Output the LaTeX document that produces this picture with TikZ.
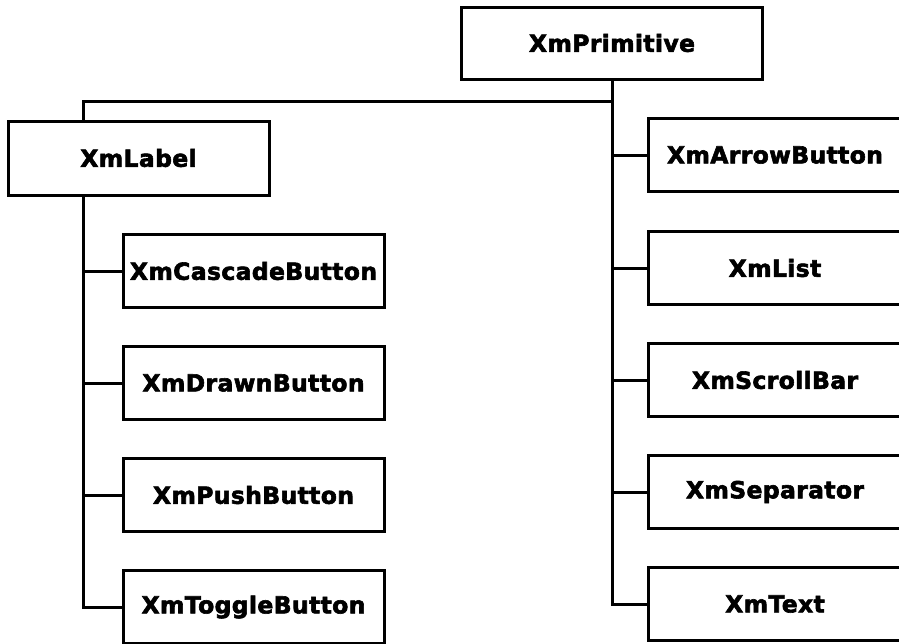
\documentclass[tikz,border=0pt]{standalone}
\usepackage{fontspec}
\newfontfamily\boxfont[LetterSpace=1.5,FakeBold=2.5]{DejaVu Sans Bold}
\begin{document}
\begin{tikzpicture}[x=1pt,y=-1pt,
  cls/.style={draw, line width=3pt, fill=white, inner sep=0pt,
    font=\boxfont\fontsize{23.5}{27}\selectfont, minimum height=73pt},
  lbox/.style={cls, minimum width=261pt},
  rbox/.style={cls, minimum width=254pt},
  link/.style={line width=3pt}]
\useasboundingbox (0,0) rectangle (899,643);
\clip (0,0) rectangle (899,643);
\fill[white] (0,0) rectangle (899,643);
\coordinate (L) at (83,101);
\node[cls, minimum width=301pt, minimum height=72pt] (prim) at (612,43) {XmPrimitive};
\node[cls, minimum width=261pt, minimum height=74pt] (label) at (138.5,158) {XmLabel};
\node[lbox] (cascade) at (253.5,271) {XmCascadeButton};
\node[lbox] (drawn) at (253.5,383) {XmDrawnButton};
\node[lbox] (push) at (253.5,495) {XmPushButton};
\node[lbox] (toggle) at (253.5,607) {XmToggleButton};
\node[rbox] (arrow) at (775,155) {XmArrowButton};
\node[rbox] (list) at (775,268) {XmList};
\node[rbox] (scroll) at (775,380) {XmScrollBar};
\node[rbox] (sep) at (775,492) {XmSeparator};
\node[rbox] (text) at (775,604) {XmText};
\draw[link] (prim.south) |- (L) -- (L |- label.north);
\draw[link] (prim.south) |- (text.west);
\draw[link] (prim.south |- arrow.west) -- (arrow.west);
\draw[link] (prim.south |- list.west) -- (list.west);
\draw[link] (prim.south |- scroll.west) -- (scroll.west);
\draw[link] (prim.south |- sep.west) -- (sep.west);
\draw[link] (L |- label.south) |- (toggle.west);
\draw[link] (L |- cascade.west) -- (cascade.west);
\draw[link] (L |- drawn.west) -- (drawn.west);
\draw[link] (L |- push.west) -- (push.west);
\end{tikzpicture}
\end{document}
